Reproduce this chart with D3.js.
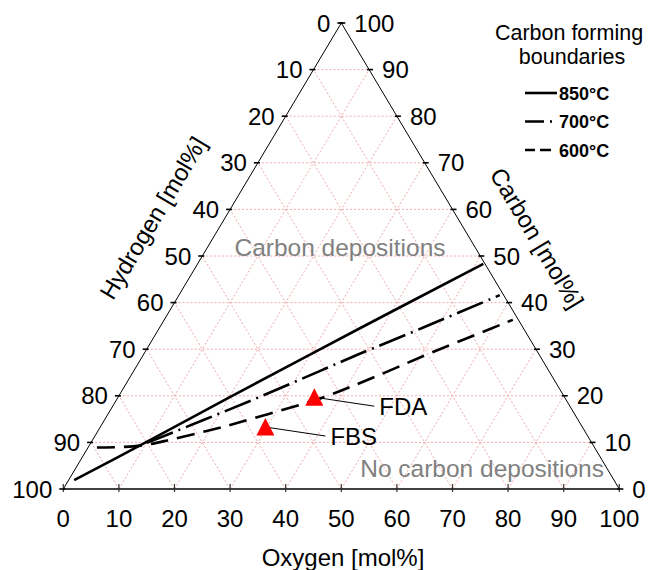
<!DOCTYPE html>
<html>
<head>
<meta charset="utf-8">
<script src="https://cdn.jsdelivr.net/npm/d3@7"></script>
<style>
  body { margin: 0; background: #fff; }
  svg { display: block; font-family: "Liberation Sans", Arial, sans-serif; }
</style>
</head>
<body>
<svg id="chart" width="648" height="570"></svg>
<script>
// Ternary diagram: Oxygen (bottom), Hydrogen (left), Carbon (right), all in mol%
const tickValues = [0, 10, 20, 30, 40, 50, 60, 70, 80, 90, 100];
const gridValues = [10, 20, 30, 40, 50, 60, 70, 80, 90];

// Carbon forming boundaries (oxygen / carbon mol%, hydrogen is the rest)
const boundaryLabels = ["850°C", "700°C", "600°C"];
const oxygen850 = [1.0, 9.7, 20.1, 36.1, 51.4];
const carbon850 = [1.9, 9.9, 19.7, 34.5, 48.3];
const oxygen700 = [10.1, 17.8, 25.5, 33.3, 38.5, 47.5, 57.7];
const carbon700 = [9.9, 14.8, 19.8, 25.2, 28.8, 34.7, 41.6];
const oxygen600 = [1.6, 9.3, 14.3, 21.4, 28.9, 36.8, 43.3, 51.5, 62.7];
const carbon600 = [8.9, 9.3, 10.7, 13.1, 16.1, 19.6, 23.6, 29.2, 36.3];

// Feed compositions
const sampleNames = ["FDA", "FBS"];
const sampleOxygen = [35.3, 29.7];
const sampleCarbon = [19.7, 13.3];

const svg = d3.select("#chart");

// Horizontal position follows O + C/2, vertical follows C
const xs = d3.scaleLinear().domain([0, 100]).range([63.3, 619.3]);
const ys = d3.scaleLinear().domain([0, 100]).range([489, 23]);
const px = (o, c) => xs(o + c / 2);
const py = (o, c) => ys(c);

// Grid: constant C, constant O, constant H
const grid = svg.append("g")
  .attr("stroke", "#eeaaaa").attr("stroke-width", 1)
  .attr("stroke-dasharray", "2,2").attr("fill", "none");
gridValues.forEach(v => {
  const segs = [
    [[0, v], [100 - v, v]],       // carbon = v
    [[v, 0], [v, 100 - v]],       // oxygen = v
    [[100 - v, 0], [0, 100 - v]]  // hydrogen = v
  ];
  segs.forEach(([a, b]) => {
    grid.append("line")
      .attr("x1", px(a[0], a[1])).attr("y1", py(a[0], a[1]))
      .attr("x2", px(b[0], b[1])).attr("y2", py(b[0], b[1]));
  });
});

// Triangle frame
const frame = svg.append("g").attr("stroke", "#000").attr("fill", "none");
frame.append("line")
  .attr("x1", px(0, 0)).attr("y1", py(0, 0))
  .attr("x2", px(100, 0)).attr("y2", py(100, 0))
  .attr("stroke-width", 1.4);
frame.append("line")
  .attr("x1", px(0, 0)).attr("y1", py(0, 0))
  .attr("x2", px(0, 100)).attr("y2", py(0, 100))
  .attr("stroke-width", 1);
frame.append("line")
  .attr("x1", px(100, 0)).attr("y1", py(100, 0))
  .attr("x2", px(0, 100)).attr("y2", py(0, 100))
  .attr("stroke-width", 1);

const ticks = svg.append("g").attr("stroke", "#000").attr("stroke-width", 1.6);
const labels = svg.append("g").attr("font-size", 24).attr("fill", "#000");

// Oxygen axis (bottom)
tickValues.forEach(v => {
  const x = px(v, 0), y = py(v, 0);
  ticks.append("line").attr("x1", x).attr("x2", x).attr("y1", y - 5).attr("y2", y + 3)
    .attr("stroke-width", 1.2).attr("stroke", "#333");
  labels.append("text").attr("x", x).attr("y", y + 38)
    .attr("text-anchor", "middle").text(v);
});

// Hydrogen axis (left edge): H = v means C = 100 - v, O = 0
tickValues.forEach(v => {
  const c = 100 - v;
  const x = px(0, c), y = py(0, c);
  ticks.append("line").attr("x1", x - 4).attr("x2", x + 2).attr("y1", y).attr("y2", y);
  labels.append("text").attr("x", x - 11).attr("y", y + 8.5)
    .attr("text-anchor", "end").text(v);
});

// Carbon axis (right edge): C = v, O = 100 - v
tickValues.forEach(v => {
  const x = px(100 - v, v), y = py(100 - v, v);
  ticks.append("line").attr("x1", x - 2).attr("x2", x + 4).attr("y1", y).attr("y2", y);
  labels.append("text").attr("x", x + 13).attr("y", y + 8.5)
    .attr("text-anchor", "start").text(v);
});

// Axis titles
const edgeAngle = Math.atan2(ys(0) - ys(100), xs(50) - xs(0)) * 180 / Math.PI;
svg.append("text").attr("x", 343).attr("y", 566)
  .attr("text-anchor", "middle").attr("font-size", 24).text("Oxygen [mol%]");
svg.append("text")
  .attr("transform", `translate(153,218) rotate(${-edgeAngle})`)
  .attr("text-anchor", "middle").attr("dy", "0.35em").attr("font-size", 24)
  .text("Hydrogen [mol%]");
svg.append("text")
  .attr("transform", `translate(537,238) rotate(${edgeAngle})`)
  .attr("text-anchor", "middle").attr("dy", "0.35em").attr("font-size", 24)
  .text("Carbon [mol%]");

// Region notes
svg.append("text").attr("x", 340).attr("y", 256).attr("text-anchor", "middle")
  .attr("font-size", 24.5).attr("fill", "#808080").text("Carbon depositions");
svg.append("text").attr("x", 604).attr("y", 477).attr("text-anchor", "end")
  .attr("font-size", 24.5).attr("fill", "#808080").text("No carbon depositions");

// Boundary curves
const toPoints = (os, cs) => os.map((o, i) => ({ o, c: cs[i] }));
const line = d3.line()
  .x(d => px(d.o, d.c)).y(d => py(d.o, d.c))
  .curve(d3.curveCatmullRom.alpha(0.5));
const curves = [
  { pts: toPoints(oxygen850, carbon850), dash: null },
  { pts: toPoints(oxygen700, carbon700), dash: "28,6,2,6" },
  { pts: toPoints(oxygen600, carbon600), dash: "18,9" }
];
svg.append("g").selectAll("path").data(curves).join("path")
  .attr("d", d => line(d.pts))
  .attr("fill", "none").attr("stroke", "#000").attr("stroke-width", 2.6)
  .attr("stroke-dasharray", d => d.dash);

// Samples with leader lines
const samples = sampleNames.map((n, i) => ({ name: n, o: sampleOxygen[i], c: sampleCarbon[i] }));
const sg = svg.append("g");
samples.forEach(s => {
  const x = px(s.o, s.c), y = py(s.o, s.c);
  sg.append("line").attr("x1", x).attr("y1", y).attr("x2", x + 60).attr("y2", y + 9)
    .attr("stroke", "#000").attr("stroke-width", 1);
  sg.append("path")
    .attr("d", `M${x},${y - 9}L${x + 9},${y + 8.5}L${x - 9},${y + 8.5}Z`)
    .attr("fill", "#ff0000");
  sg.append("text").attr("x", x + 65).attr("y", y + 18)
    .attr("font-size", 24).text(s.name);
});

// Legend
const lg = svg.append("g");
lg.append("text").attr("x", 569).attr("y", 40).attr("text-anchor", "middle")
  .attr("font-size", 21.5).text("Carbon forming");
lg.append("text").attr("x", 572).attr("y", 64).attr("text-anchor", "middle")
  .attr("font-size", 21.5).text("boundaries");
const legendDash = [null, "19,6,2,40", "10,5,11,40"];
boundaryLabels.forEach((t, i) => {
  const y = 93 + i * 28.5;
  lg.append("line").attr("x1", 525).attr("x2", 557).attr("y1", y).attr("y2", y)
    .attr("stroke", "#000").attr("stroke-width", 2.6)
    .attr("stroke-dasharray", legendDash[i]);
  lg.append("text").attr("x", 559).attr("y", y + 6.5)
    .attr("font-size", 18).attr("font-weight", "bold").text(t);
});
</script>
</body>
</html>
